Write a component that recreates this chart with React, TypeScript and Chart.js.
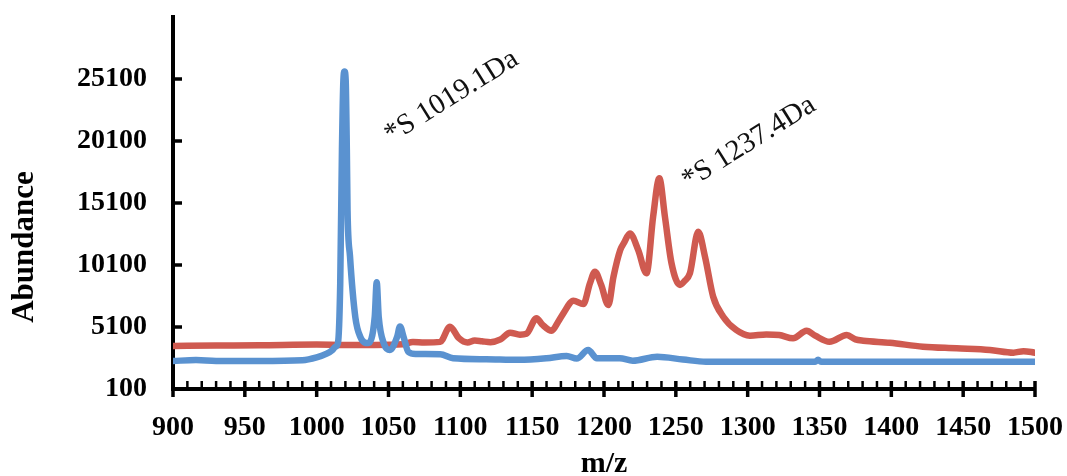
import React, { useEffect, useRef } from "react";
import { Chart, registerables } from "chart.js";

Chart.register(...registerables);

// ---- data ----
const mzBlue = [900, 916, 930, 960, 990, 1000, 1007, 1011, 1013, 1014.8, 1016.4, 1017.6, 1018.6, 1019.4, 1020.2, 1021, 1021.5, 1023.2, 1026.9, 1030.4, 1035.9, 1040.4, 1041.8, 1043.2, 1047, 1051, 1056, 1058, 1060.5, 1063.8, 1069, 1086, 1095, 1118, 1141, 1160, 1174, 1181, 1189, 1195, 1211, 1220, 1237, 1255, 1271, 1300, 1347, 1349, 1351, 1400, 1500];
const abBlue = [2360, 2430, 2360, 2360, 2420, 2650, 2950, 3250, 3500, 3800, 8600, 19400, 25000, 25700, 25000, 19400, 14500, 10800, 5900, 4300, 3800, 5900, 8700, 5900, 3700, 3250, 4300, 5150, 4300, 3100, 2920, 2900, 2580, 2500, 2450, 2580, 2770, 2550, 3250, 2580, 2580, 2380, 2700, 2480, 2300, 2300, 2300, 2450, 2300, 2300, 2300];

const mzRed = [900, 930, 960, 1000, 1020, 1040, 1060, 1067, 1075, 1086, 1092.8, 1099, 1105, 1110, 1115, 1121, 1128, 1134.6, 1141.5, 1146, 1153, 1157, 1163.6, 1168, 1171.7, 1178.7, 1185.6, 1190.2, 1193.7, 1198, 1203, 1206.6, 1211.3, 1214, 1218, 1223.8, 1229.6, 1234.2, 1238.5, 1242.4, 1247, 1252.9, 1256, 1259.8, 1265.6, 1270.3, 1276, 1283, 1292, 1301.6, 1313, 1322, 1331.6, 1341, 1347, 1357, 1369, 1375, 1380.5, 1399, 1422, 1445.5, 1468.7, 1485, 1492, 1500];
const abRed = [3570, 3600, 3620, 3680, 3650, 3650, 3700, 3900, 3850, 3900, 5120, 4200, 3850, 4010, 3950, 3880, 4100, 4640, 4480, 4550, 5800, 5300, 4800, 5500, 6200, 7220, 6950, 8620, 9560, 8500, 6870, 9150, 11310, 11900, 12650, 11310, 9430, 14000, 17090, 14000, 10240, 8490, 8800, 9430, 12780, 10770, 7540, 5930, 4860, 4400, 4500, 4450, 4190, 4800, 4400, 3910, 4450, 4100, 3990, 3830, 3510, 3380, 3245, 3030, 3150, 3030];

const xTicks = [900, 950, 1000, 1050, 1100, 1150, 1200, 1250, 1300, 1350, 1400, 1450, 1500];
const xMinorTicks = [910, 920, 930, 940, 960, 970, 980, 990, 1010, 1020, 1030, 1040, 1060, 1070, 1080, 1090, 1110, 1120, 1130, 1140, 1160, 1170, 1180, 1190, 1210, 1220, 1230, 1240, 1260, 1270, 1280, 1290, 1310, 1320, 1330, 1340, 1360, 1370, 1380, 1390, 1410, 1420, 1430, 1440, 1460, 1470, 1480, 1490];
const yTicks = [100, 5100, 10100, 15100, 20100, 25100];

const annTexts = ["*S 1019.1Da", "*S 1237.4Da"];
const annMz = [1052, 1259];
const annAb = [19900, 16200];

const xTitle = "m/z";
const yTitle = "Abundance";

const BLUE = "#5A92D0";
const RED = "#CF5A50";
const SERIF = "'Liberation Serif', 'Times New Roman', serif";

const decorPlugin = {
  id: "decor",
  afterDraw(chart: any) {
    const { ctx, chartArea, scales } = chart;
    const xs = scales.x;
    const ys = scales.y;
    ctx.save();
    ctx.strokeStyle = "#000";
    ctx.lineCap = "butt";
    ctx.lineWidth = 2.5;
    xMinorTicks.forEach((v) => {
      const px = xs.getPixelForValue(v);
      ctx.beginPath();
      ctx.moveTo(px, chartArea.bottom);
      ctx.lineTo(px, chartArea.bottom - 8);
      ctx.stroke();
    });
    ctx.lineWidth = 3.5;
    xTicks.forEach((v) => {
      const px = xs.getPixelForValue(v);
      ctx.beginPath();
      ctx.moveTo(px, chartArea.bottom - 8);
      ctx.lineTo(px, chartArea.bottom + 8);
      ctx.stroke();
    });
    yTicks.forEach((v) => {
      const py = ys.getPixelForValue(v);
      ctx.beginPath();
      ctx.moveTo(chartArea.left, py);
      ctx.lineTo(chartArea.left + 9, py);
      ctx.stroke();
    });
    ctx.fillStyle = "#111";
    ctx.font = `29px ${SERIF}`;
    ctx.textAlign = "left";
    ctx.textBaseline = "alphabetic";
    annTexts.forEach((t, i) => {
      const px = xs.getPixelForValue(annMz[i]);
      const py = ys.getPixelForValue(annAb[i]);
      ctx.save();
      ctx.translate(px, py);
      ctx.rotate((-32 * Math.PI) / 180);
      ctx.fillText(t, 0, 0);
      ctx.restore();
    });
    ctx.fillStyle = "#000";
    ctx.font = `bold 31px ${SERIF}`;
    ctx.textAlign = "center";
    ctx.textBaseline = "middle";
    ctx.save();
    ctx.translate(25, 247);
    ctx.rotate(-Math.PI / 2);
    ctx.fillText(yTitle, 0, 0);
    ctx.restore();
    ctx.font = `bold 30px ${SERIF}`;
    ctx.fillText(xTitle, (chartArea.left + chartArea.right) / 2, 464);
    ctx.restore();
  },
};

export default function App() {
  const ref = useRef<HTMLCanvasElement | null>(null);
  useEffect(() => {
    if (!ref.current) return;
    const chart = new Chart(ref.current, {
      type: "line",
      data: {
        datasets: [
          {
            label: "blue",
            data: mzBlue.map((m, i) => ({ x: m, y: abBlue[i] })),
            borderColor: BLUE,
            borderWidth: 6.5,
            pointRadius: 0,
            cubicInterpolationMode: "monotone",
            borderJoinStyle: "round",
            borderCapStyle: "round",
            fill: false,
          },
          {
            label: "red",
            data: mzRed.map((m, i) => ({ x: m, y: abRed[i] })),
            borderColor: RED,
            borderWidth: 6.5,
            pointRadius: 0,
            cubicInterpolationMode: "monotone",
            borderJoinStyle: "round",
            borderCapStyle: "round",
            fill: false,
          },
        ],
      },
      options: {
        responsive: false,
        animation: false,
        layout: { padding: { top: 17, right: 32, bottom: 0, left: 0 } },
        plugins: { legend: { display: false }, tooltip: { enabled: false } },
        scales: {
          x: {
            type: "linear",
            min: 900,
            max: 1500,
            afterBuildTicks: (s: any) => {
              s.ticks = xTicks.map((v) => ({ value: v }));
            },
            afterFit: (s: any) => {
              s.height = 87;
              s.paddingLeft = 0;
              s.paddingRight = 0;
            },
            grid: { display: false, drawTicks: false },
            border: { display: true, color: "#000", width: 4 },
            ticks: {
              color: "#000",
              padding: 22,
              maxRotation: 0,
              autoSkip: false,
              font: { family: SERIF, size: 28, weight: "bold" },
              callback: (v: any) => String(v),
            },
          },
          y: {
            type: "linear",
            min: 100,
            max: 30100,
            afterBuildTicks: (s: any) => {
              s.ticks = yTicks.map((v) => ({ value: v }));
            },
            afterFit: (s: any) => {
              s.width = 173;
              s.paddingTop = 0;
              s.paddingBottom = 0;
            },
            grid: { display: false, drawTicks: false },
            border: { display: true, color: "#000", width: 4 },
            ticks: {
              color: "#000",
              padding: 26,
              autoSkip: false,
              font: { family: SERIF, size: 28, weight: "bold" },
              callback: (v: any) => String(v),
            },
          },
        },
      },
      plugins: [decorPlugin],
    });
    return () => chart.destroy();
  }, []);
  return (
    <div style={{ position: "absolute", left: 0, top: 0, width: 1067, height: 476, background: "#fff" }}>
      <canvas ref={ref} width={1067} height={476} style={{ display: "block" }} />
    </div>
  );
}
